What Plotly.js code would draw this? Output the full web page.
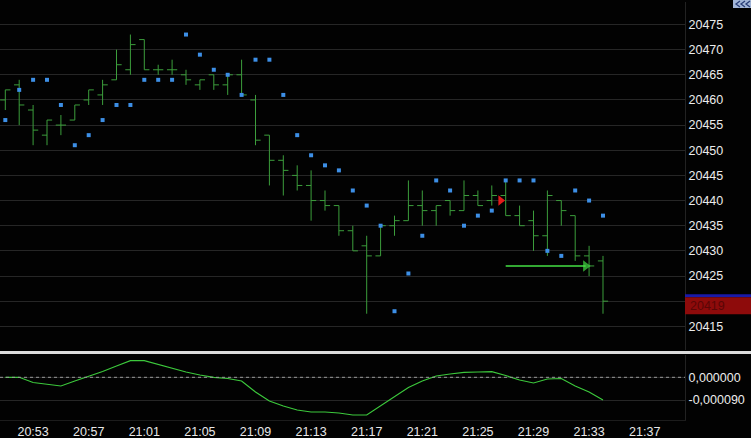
<!DOCTYPE html>
<html><head><meta charset="utf-8">
<script src="https://cdn.plot.ly/plotly-3.0.1.min.js"></script>
<style>html,body{margin:0;padding:0;background:#020202;overflow:hidden}#chart{width:751px;height:438px}</style>
</head><body><div id="chart"></div>
<script>
const day = '2024-01-01 ';
const times = ['20:51','20:52','20:53','20:54','20:55','20:56','20:57','20:58','20:59','21:00',
  '21:01','21:02','21:03','21:04','21:05','21:06','21:07','21:08','21:09','21:10',
  '21:11','21:12','21:13','21:14','21:15','21:16','21:17','21:18','21:19','21:20',
  '21:21','21:22','21:23','21:24','21:25','21:26','21:27','21:28','21:29','21:30',
  '21:31','21:32','21:33','21:34'];
const open  = [20460,20463,20458,20453,20455,20456,20460,20461,20464,20466,
  20472,20466,20466,20465,20463,20465,20463,20465,20460,20453,
  20448,20445,20443,20440,20439,20434,20431,20429,20435,20436,
  20439,20438,20440,20438,20441,20440,20441,20437,20436,20433,
  20440,20437,20429,20428];
const high  = [20462,20464,20459,20456,20457,20459,20462,20464,20470,20473,
  20472,20467,20468,20466,20464,20465,20465,20468,20461,20453,
  20449,20447,20446,20442,20439,20435,20433,20435,20437,20444,
  20442,20439,20440,20444,20442,20443,20444,20439,20438,20442,
  20440,20437,20431,20429];
const low   = [20458,20455,20451,20451,20453,20456,20459,20459,20464,20465,
  20466,20465,20465,20463,20462,20462,20461,20461,20451,20443,
  20441,20442,20436,20438,20433,20430,20417.5,20429,20433,20436,
  20435,20435,20437,20438,20439,20439,20437,20435,20430,20429,
  20435,20428,20425,20417.5];
const close = [20462,20459,20454,20456,20455,20459,20462,20463,20467,20471,
  20466,20466,20466,20464,20464,20463,20465,20461,20452,20448,
  20446,20443,20440,20439,20434,20430,20429,20435,20436,20439,
  20438,20439,20438,20441,20439,20441,20437,20435,20433,20441,
  20438,20429,20427,20420];
const sar = [20456,20462,20464,20464,20459,20451,20453,20456,20459,20459,
  20464,20464,20464,20473,20469,20466,20465,20461,20468,20468,
  20461,20453,20449,20447,20446,20442,20439,20435,20418,20425.5,
  20433,20444,20442,20435,20437,20438,20444,20444,20444,20430,
  20429,20442,20440,20437];
const osc = [0,0,-2.06e-5,-2.85e-5,-3.45e-5,-1.47e-5,3.2e-6,2.3e-5,4.48e-5,6.58e-5,
  6.58e-5,5.08e-5,3.69e-5,2.1e-5,9.1e-6,0,-4.8e-6,-1.47e-5,-5.83e-5,-9.4e-5,
  -1.138e-4,-1.297e-4,-1.376e-4,-1.376e-4,-1.416e-4,-1.495e-4,-1.495e-4,-1.138e-4,-7.81e-5,-4.04e-5,
  -1.47e-5,5.2e-6,1.31e-5,1.98e-5,2.1e-5,2.22e-5,7.1e-6,-1.07e-5,-2.26e-5,-6.7e-6,
  -4.8e-6,-3.45e-5,-5.83e-5,-9.0e-5];
const sellSignalTime = ['21:26:38'];
const sellSignalPrice = [20440];
const arrowTime = ['21:27:00','21:32:45'];
const arrowPrice = [20427,20427];
const lastPrice = 20419;
const priceTicks = [20415,20420,20425,20430,20435,20440,20445,20450,20455,20460,20465,20470,20475];
const priceTickText = ['20415','','20425','20430','20435','20440','20445','20450','20455','20460','20465','20470','20475'];
const oscTicks = [0,-0.00009];
const oscTickText = ['0,000000','-0,000090'];
const timeRange = ['20:50:37.1','21:39:54'];

const x = times.map(t => day + t);
const barColor = '#3c9e3c';
const traces = [
  {type:'ohlc', x:x, open:open, high:high, low:low, close:close,
   increasing:{line:{color:barColor,width:1}}, decreasing:{line:{color:barColor,width:1}},
   tickwidth:0.37, xaxis:'x', yaxis:'y', hoverinfo:'skip'},
  {type:'scatter', mode:'markers', x:x, y:sar, yaxis:'y',
   marker:{symbol:'square', size:4, color:'#3d8fe6', line:{width:0}}, hoverinfo:'skip'},
  {type:'scatter', mode:'markers', x:sellSignalTime.map(t=>day+t), y:sellSignalPrice, yaxis:'y',
   marker:{symbol:'triangle-right', size:9, color:'#e41b1b', line:{width:0}}, hoverinfo:'skip'},
  {type:'scatter', mode:'lines+markers', x:arrowTime.map(t=>day+t), y:arrowPrice, yaxis:'y',
   line:{color:'#44e044', width:1.5},
   marker:{symbol:['circle','triangle-right'], size:[0,10], color:'#44e044', line:{width:0}}, hoverinfo:'skip'},
  {type:'scatter', mode:'lines', x:x, y:osc, yaxis:'y2', line:{color:'#3cc83c', width:1.2}, hoverinfo:'skip'}
];
const PW = 685, PB = 420, PH = PB - 2;
const px = v => v / PW, py = v => (PB - v) / PH;
function chevron(x0){
  return 'M ' + px(x0+4) + ' ' + py(1) + ' L ' + px(x0) + ' ' + py(4) + ' L ' + px(x0+4) + ' ' + py(7);
}
const layout = {
  width:751, height:438, paper_bgcolor:'#020202', plot_bgcolor:'#020202',
  margin:{l:0, r:751-PW, t:2, b:438-PB}, showlegend:false, dragmode:false,
  font:{family:'"Liberation Sans", Arial, sans-serif', size:12.5, color:'#e8e8e8'},
  xaxis:{type:'date', range:timeRange.map(t=>day+t), anchor:'y2', tickformat:'%H:%M',
    tick0:day+'20:53', dtick:240000, showgrid:false, zeroline:false,
    rangeslider:{visible:false}, ticks:'', showline:true, linecolor:'#1c1c1c',
    tickfont:{size:12.5, color:'#e8e8e8'}},
  yaxis:{domain:[(PB-350)/PH,1], side:'right', anchor:'x', range:[20410.29,20479.47],
    tickvals:priceTicks, ticktext:priceTickText, gridcolor:'#262626', zeroline:false,
    showline:true, linecolor:'#222', ticks:'', tickfont:{size:12.5, color:'#ececec'}},
  yaxis2:{domain:[0,(PB-355)/PH], side:'right', anchor:'x', range:[-1.693e-4,8.84e-5],
    tickvals:oscTicks, ticktext:oscTickText, gridcolor:'#262626', zeroline:false,
    showline:true, linecolor:'#222', ticks:'', tickfont:{size:12.5, color:'#ececec'}},
  shapes:[
    {type:'rect', xref:'paper', yref:'paper', x0:0, x1:px(751), y0:py(354), y1:py(351),
     fillcolor:'#dcdcdc', line:{width:0}},
    {type:'line', xref:'paper', yref:'y2', x0:0, x1:1, y0:0, y1:0,
     line:{color:'#9a9a9a', width:1, dash:'dot'}},
    {type:'rect', xref:'paper', yref:'y', x0:1, x1:px(751), y0:lastPrice+1.77, y1:lastPrice+2.36,
     fillcolor:'#1a1aa8', line:{width:0}},
    {type:'rect', xref:'paper', yref:'y', x0:1, x1:px(751), y0:lastPrice-1.6, y1:lastPrice+1.77,
     fillcolor:'#8e0b0b', line:{width:0}},
    {type:'rect', xref:'paper', yref:'paper', x0:px(733), x1:px(751), y0:py(8), y1:py(-2),
     fillcolor:'#a3b6d8', line:{width:0}},
    {type:'path', xref:'paper', yref:'paper', path:chevron(736), line:{color:'#2a3f78', width:1.3}},
    {type:'path', xref:'paper', yref:'paper', path:chevron(741), line:{color:'#2a3f78', width:1.3}},
    {type:'path', xref:'paper', yref:'paper', path:chevron(746), line:{color:'#2a3f78', width:1.3}}
  ],
  annotations:[
    {xref:'paper', yref:'y', x:px(688), y:lastPrice, xanchor:'left', yanchor:'middle',
     text:String(lastPrice), showarrow:false, font:{size:12.5, color:'#5a0606'}}
  ]
};
Plotly.newPlot('chart', traces, layout, {staticPlot:true, displayModeBar:false});
</script></body></html>
